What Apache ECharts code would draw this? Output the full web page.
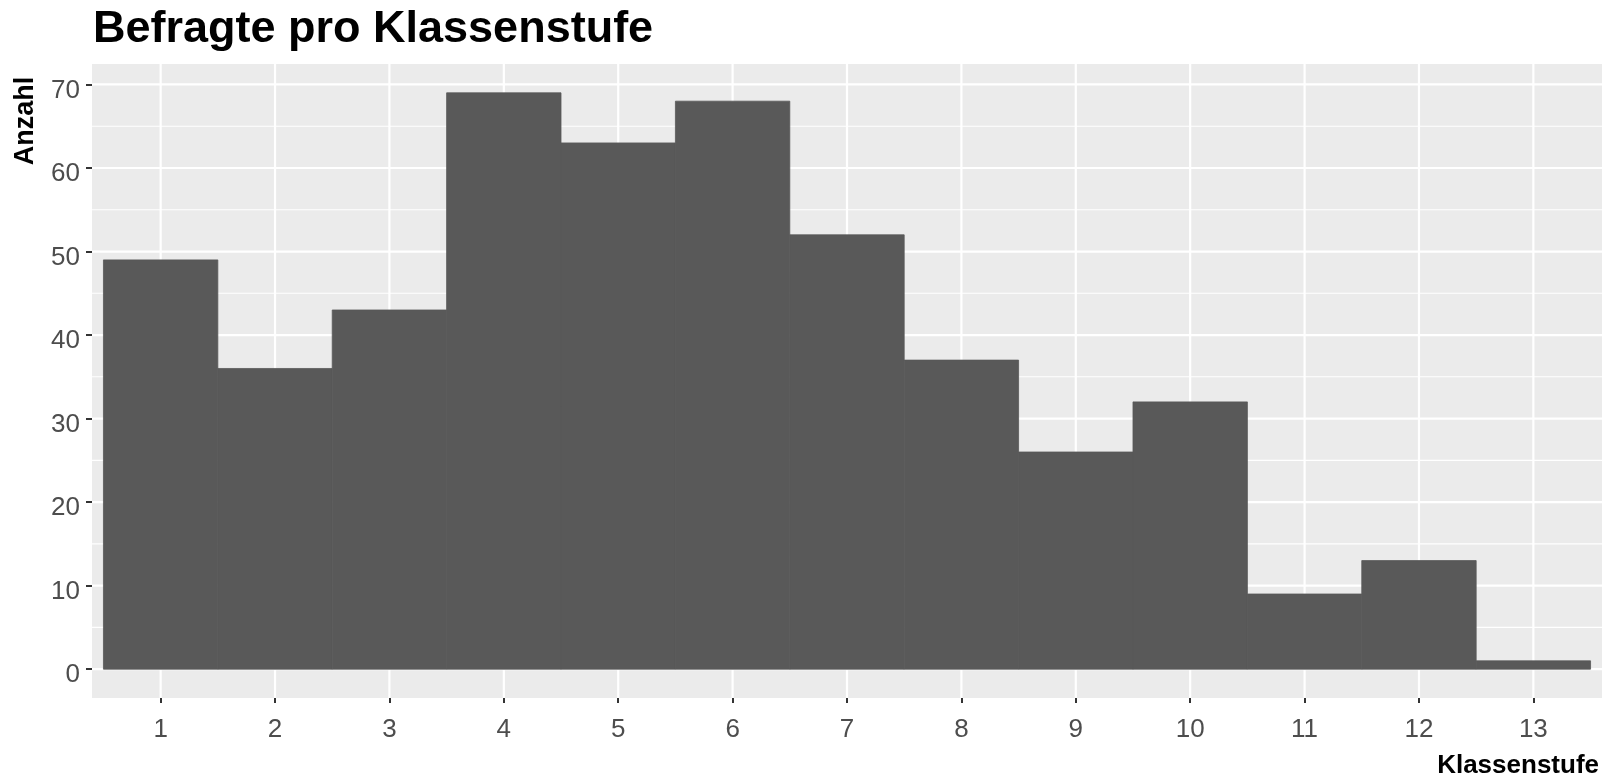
<!DOCTYPE html>
<html>
<head>
<meta charset="utf-8">
<script src="https://cdn.jsdelivr.net/npm/echarts@6/dist/echarts.min.js"></script>
<style>
html,body{margin:0;padding:0;background:#fff;}
#chart{width:1603px;height:780px;}
</style>
</head>
<body>
<div id="chart"></div>
<script>
// ---- data ----
var classLevels = [1, 2, 3, 4, 5, 6, 7, 8, 9, 10, 11, 12, 13];
var counts = [49, 36, 43, 69, 63, 68, 52, 37, 26, 32, 9, 13, 1];
var xTickValues = [1, 2, 3, 4, 5, 6, 7, 8, 9, 10, 11, 12, 13];
var yTickValues = [0, 10, 20, 30, 40, 50, 60, 70];
var yMinorValues = [5, 15, 25, 35, 45, 55, 65];
var titleText = 'Befragte pro Klassenstufe';
var xTitle = 'Klassenstufe';
var yTitle = 'Anzahl';

// ---- layout / style ----
var binWidth = 1;
var xMin = 0.4, xMax = 13.6;
var yMin = -3.45, yMax = 72.45;
var FONT = "'Liberation Sans', Arial, Helvetica, sans-serif";

var chart = echarts.init(document.getElementById('chart'), null, {renderer: 'canvas'});

function gridLineSeries(values, orient, width) {
  return {
    type: 'custom',
    silent: true,
    z: 1,
    clip: true,
    data: values.map(function (v) { return orient === 'v' ? [v, 0] : [xMin, v]; }),
    renderItem: function (params, api) {
      var p1, p2;
      if (orient === 'v') {
        var xv = api.value(0);
        p1 = api.coord([xv, yMin]);
        p2 = api.coord([xv, yMax]);
      } else {
        var yv = api.value(1);
        p1 = api.coord([xMin, yv]);
        p2 = api.coord([xMax, yv]);
      }
      return {
        type: 'line',
        shape: {x1: p1[0], y1: p1[1], x2: p2[0], y2: p2[1]},
        style: {stroke: '#FFFFFF', lineWidth: width}
      };
    }
  };
}

var option = {
  animation: false,
  backgroundColor: '#FFFFFF',
  title: {
    text: titleText,
    left: 93,
    top: 7,
    padding: 0,
    textStyle: {fontFamily: FONT, fontSize: 45, fontWeight: 'bold', color: '#000000'}
  },
  grid: {
    left: 92, right: 1, top: 64, bottom: 82,
    show: true, backgroundColor: '#EBEBEB', borderWidth: 0
  },
  xAxis: {
    type: 'value',
    min: xMin, max: xMax,
    axisLine: {show: false, onZero: false},
    splitLine: {show: false},
    axisTick: {show: true, customValues: xTickValues, length: 5, lineStyle: {color: '#333333', width: 2}},
    axisLabel: {customValues: xTickValues, margin: 19, fontFamily: FONT, fontSize: 26, color: '#4D4D4D'}
  },
  yAxis: {
    type: 'value',
    min: yMin, max: yMax,
    axisLine: {show: false, onZero: false},
    splitLine: {show: false},
    axisTick: {show: true, customValues: yTickValues, length: 6, lineStyle: {color: '#333333', width: 2}},
    axisLabel: {customValues: yTickValues, margin: 12, verticalAlign: 'top', lineHeight: 12, fontFamily: FONT, fontSize: 26, color: '#4D4D4D'}
  },
  graphic: [
    {
      type: 'text',
      x: 1599, y: 766,
      style: {text: xTitle, fontFamily: FONT, fontSize: 26, fontWeight: 'bold', fill: '#000000', align: 'right', verticalAlign: 'middle'}
    },
    {
      type: 'text',
      x: 26, y: 121,
      rotation: Math.PI / 2,
      style: {text: yTitle, fontFamily: FONT, fontSize: 27, fontWeight: 'bold', fill: '#000000', align: 'center', verticalAlign: 'middle'}
    }
  ],
  series: [
    gridLineSeries(yMinorValues, 'h', 1.1),
    gridLineSeries(yTickValues, 'h', 2.2),
    gridLineSeries(xTickValues, 'v', 2.2),
    {
      type: 'custom',
      z: 2,
      clip: true,
      data: classLevels.map(function (c, i) { return [c, counts[i]]; }),
      renderItem: function (params, api) {
        var xv = api.value(0), yv = api.value(1);
        var p1 = api.coord([xv - binWidth / 2, yv]);
        var p2 = api.coord([xv + binWidth / 2, 0]);
        return {
          type: 'rect',
          shape: {x: p1[0], y: p1[1], width: p2[0] - p1[0], height: p2[1] - p1[1]},
          style: {fill: '#595959', stroke: '#595959', lineWidth: 0.8}
        };
      }
    }
  ]
};
chart.setOption(option);
</script>
</body>
</html>
